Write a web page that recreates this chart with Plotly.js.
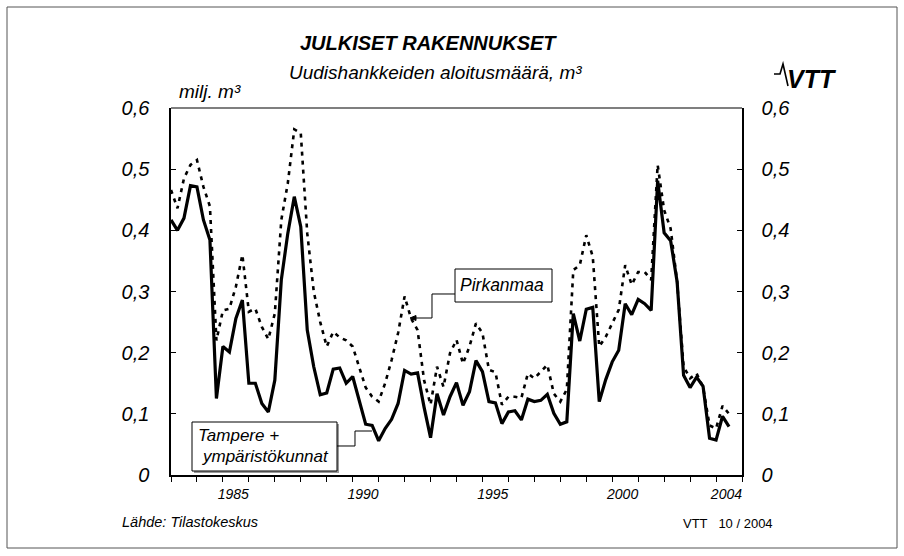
<!DOCTYPE html>
<html>
<head>
<meta charset="utf-8">
<script src="https://cdn.plot.ly/plotly-3.0.1.min.js"></script>
<style>
html,body{margin:0;padding:0;background:#fff;}
#chart{width:904px;height:556px;}
</style>
</head>
<body>
<div id="chart"></div>
<script>
// ---- data (quarterly, 1983Q1 .. 2004Q3), million m3 ----
const startYear = 1983;
const quartersPerYear = 4;
const tampere = [
  0.417,0.400,0.420,0.473, 0.471,0.417,0.384,0.125, 0.210,0.201,0.256,0.286,
  0.150,0.150,0.117,0.103, 0.155,0.319,0.395,0.455, 0.406,0.237,0.177,0.131,
  0.134,0.173,0.175,0.150, 0.161,0.122,0.083,0.081, 0.056,0.076,0.091,0.117,
  0.171,0.165,0.167,0.111, 0.061,0.133,0.098,0.128, 0.151,0.114,0.136,0.187,
  0.169,0.120,0.118,0.084, 0.103,0.105,0.090,0.124, 0.120,0.122,0.132,0.101,
  0.083,0.087,0.264,0.219, 0.271,0.274,0.120,0.156, 0.185,0.204,0.280,0.262,
  0.287,0.280,0.269,0.481, 0.396,0.383,0.316,0.163, 0.143,0.160,0.145,0.060,
  0.057,0.096,0.079
];
const pirkanmaa = [
  0.466,0.436,0.485,0.507, 0.515,0.471,0.439,0.220, 0.269,0.272,0.308,0.360,
  0.267,0.272,0.242,0.222, 0.264,0.417,0.477,0.565, 0.559,0.395,0.300,0.250,
  0.210,0.234,0.225,0.220, 0.210,0.177,0.143,0.128, 0.120,0.150,0.188,0.232,
  0.292,0.256,0.237,0.155, 0.115,0.177,0.144,0.199, 0.221,0.182,0.210,0.248,
  0.232,0.172,0.168,0.115, 0.128,0.128,0.126,0.166, 0.158,0.169,0.180,0.133,
  0.120,0.140,0.335,0.343, 0.392,0.357,0.210,0.226, 0.248,0.270,0.343,0.311,
  0.332,0.332,0.319,0.507, 0.433,0.403,0.316,0.177, 0.158,0.166,0.144,0.081,
  0.076,0.113,0.100
];
const yearTicks = [];
for (let y = 1983; y <= 2005; y++) yearTicks.push(y);
const yearLabels = ['1985','1990','1995','2000','2004'];
const yTickVals = [0,0.1,0.2,0.3,0.4,0.5,0.6];
const yTickText = ['0','0,1','0,2','0,3','0,4','0,5','0,6'];

// time coordinate of each quarter
const t = tampere.map((_, i) => startYear + i / quartersPerYear);
const tp = pirkanmaa.map((_, i) => startYear + i / quartersPerYear);
const labelPos = yearLabels.map(s => Number(s) + 0.4);

// ---- layout helpers (pixel -> paper) ----
const L = 171, R = 742, T = 108, B = 475;
const px = x => (x - L) / (R - L);
const py = y => (B - y) / (B - T);

const FONT = '"Liberation Sans", Arial, sans-serif';
const ital = (size, extra) => Object.assign({family: FONT, size: size, color: '#000', style: 'italic'}, extra || {});

const traces = [
  {x: tp, y: pirkanmaa, type: 'scatter', mode: 'lines', name: 'Pirkanmaa',
   line: {color: '#000', width: 2.6, dash: '4px,5px'}, hoverinfo: 'skip'},
  {x: t, y: tampere, type: 'scatter', mode: 'lines', name: 'Tampere + ympäristökunnat',
   line: {color: '#000', width: 3.2}, hoverinfo: 'skip'},
  {x: [t[0]], y: [tampere[0]], xaxis: 'x2', yaxis: 'y2', type: 'scatter', mode: 'markers',
   marker: {opacity: 0}, hoverinfo: 'skip', showlegend: false}
];

function rect(x0, y0, x1, y1, opts) {
  return Object.assign({type: 'rect', xref: 'paper', yref: 'paper',
    x0: px(x0), x1: px(x1), y0: py(y0), y1: py(y1),
    line: {color: '#000', width: 1}, fillcolor: 'rgba(0,0,0,0)'}, opts || {});
}
function path(pts, opts) {
  const d = pts.map((p, i) => (i ? 'L' : 'M') + px(p[0]).toFixed(5) + ',' + py(p[1]).toFixed(5)).join(' ');
  return Object.assign({type: 'path', xref: 'paper', yref: 'paper', path: d,
    line: {color: '#000', width: 1}}, opts || {});
}
function note(text, x, y, font, xanchor) {
  return {text: text, xref: 'paper', yref: 'paper', x: px(x), y: py(y),
    xanchor: xanchor || 'center', yanchor: 'middle', showarrow: false, font: font};
}

const shapes = [
  rect(7, 7, 897, 548, {line: {color: '#555', width: 1}}),
  path([[L, T], [R, T]], {line: {color: '#000', width: 1.2}}),
  // Pirkanmaa box + connector
  rect(455, 269, 552, 302, {fillcolor: '#fff'}),
  path([[455, 294], [432, 294], [432, 318], [413, 318]]),
  path([[410, 318], [416, 315.5], [416, 320.5], [410, 318]], {fillcolor: '#000'}),
  // Tampere box + connector
  rect(194, 424, 339, 473, {fillcolor: '#999', line: {width: 0}}),
  rect(192, 422, 337, 471, {fillcolor: '#fff'}),
  path([[337, 446], [355, 446], [355, 431], [372, 431]]),
  // VTT logo pulse
  path([[774, 74], [780, 74], [783, 64], [788, 86]], {line: {color: '#000', width: 1.6}})
];

const annotations = [
  note('JULKISET RAKENNUKSET', 298, 43, ital(20, {weight: 'bold'}), 'left'),
  note('Uudishankkeiden aloitusmäärä, m³', 287, 72, ital(19), 'left'),
  note('milj. m³', 177, 91, ital(19), 'left'),
  note('VTT', 812, 79, ital(25, {weight: 'bold'})),
  note('Pirkanmaa', 502, 285, ital(17.5)),
  note('Tampere +', 196, 435, ital(17), 'left'),
  note('ympäristökunnat', 200, 456, ital(17), 'left'),
  note('Lähde: Tilastokeskus', 120, 522, ital(14.5), 'left'),
  note('VTT\u00a0\u00a0\u00a010 / 2004', 681, 523, {family: FONT, size: 13, color: '#000'}, 'left')
];

const layout = {
  width: 904, height: 556,
  margin: {l: L, r: 904 - R, t: T, b: 556 - B, pad: 0},
  paper_bgcolor: '#fff', plot_bgcolor: '#fff',
  showlegend: false,
  xaxis: {range: [1983, 2005], tickmode: 'array', tickvals: yearTicks, showticklabels: false,
    ticks: 'outside', ticklen: 5, tickwidth: 1, tickcolor: '#000',
    showline: true, linewidth: 2.2, linecolor: '#000', showgrid: false, zeroline: false, fixedrange: true},
  xaxis2: {overlaying: 'x', anchor: 'y', side: 'bottom', range: [1983, 2005], tickmode: 'array',
    tickvals: labelPos, ticktext: yearLabels, ticks: 'outside', ticklen: 6, tickcolor: 'rgba(0,0,0,0)',
    tickfont: ital(14), showline: false, showgrid: false, zeroline: false, fixedrange: true},
  yaxis: {range: [0, 0.6], tickmode: 'array', tickvals: yTickVals, ticktext: yTickText,
    ticks: 'inside', ticklen: 5, tickcolor: '#000', tickfont: ital(20), ticklabelstandoff: 16,
    showline: true, linewidth: 1.6, linecolor: '#000', showgrid: false, zeroline: false, fixedrange: true},
  yaxis2: {overlaying: 'y', side: 'right', anchor: 'x', range: [0, 0.6], tickmode: 'array',
    tickvals: yTickVals, ticktext: yTickText, ticks: 'inside', ticklen: 5, tickcolor: '#000',
    tickfont: ital(20), ticklabelstandoff: 14,
    showline: true, linewidth: 1.6, linecolor: '#000', showgrid: false, zeroline: false, fixedrange: true},
  shapes: shapes,
  annotations: annotations
};

Plotly.newPlot('chart', traces, layout, {staticPlot: true, displayModeBar: false});
</script>
</body>
</html>
